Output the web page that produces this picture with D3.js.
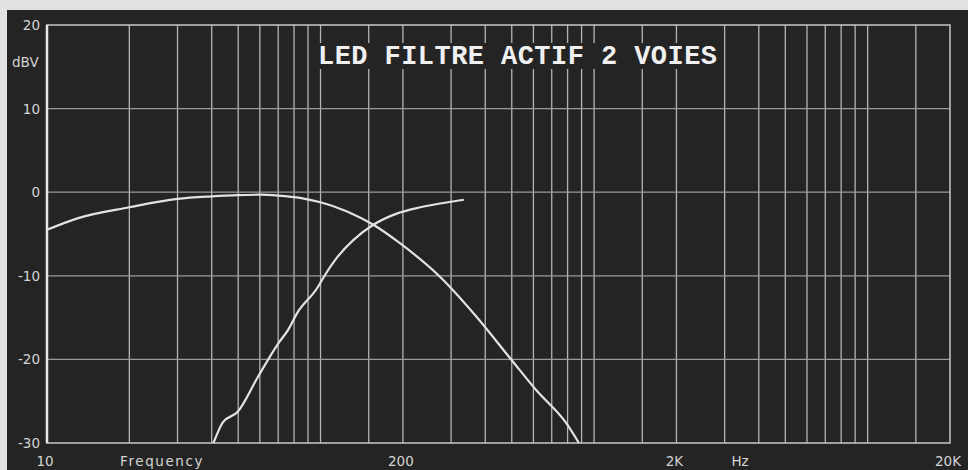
<!DOCTYPE html>
<html>
<head>
<meta charset="utf-8">
<script src="https://cdn.jsdelivr.net/npm/d3@7"></script>
<style>
  body { margin: 0; background: #e2e2e2; }
  svg { display: block; }
  .ev-label { font-family: "DejaVu Sans", sans-serif; font-size: 13.5px; fill: #d4d4d4; }
  .ev-title { font-family: "Liberation Mono", monospace; font-weight: bold; font-size: 27px; fill: #f0f0f0; }
</style>
</head>
<body>
<div id="chart"></div>
<script>
"use strict";

// Axis ticks
const dbTicks = [20, 10, 0, -10, -20, -30];
const freqTicks = [10, 200, 2000, 20000];
const freqTickLabels = ["10", "200", "2K", "20K"];

// Vertical grid (log, as on the analyser screen)
const gridFreqs = [
  20, 30, 40, 50, 60, 70, 80, 90,
  100, 150, 200, 300, 400, 500, 600, 700, 800, 900,
  1000, 1500, 2000, 3000, 4000, 5000, 6000, 7000, 8000, 9000,
  10000, 15000,
];
const gridDbs = [10, 0, -10, -20];

// Low-pass way (woofer)
const lowPassFreq = [10, 13, 20, 30, 40, 50, 60, 70, 85, 100, 125, 156, 195, 275, 365, 500, 615, 790, 880];
const lowPassDb = [-4.5, -3.1, -1.8, -0.8, -0.5, -0.35, -0.3, -0.4, -0.7, -1.2, -2.3, -3.9, -6.1, -10.2, -14.6, -20.1, -23.7, -27.6, -30];

// High-pass way (tweeter)
const highPassFreq = [40.6, 44, 49.7, 59, 70, 76, 82, 97.5, 102.5, 115, 132, 156, 192, 232, 292, 334];
const highPassDb = [-30, -27.5, -26.3, -22.1, -18.1, -16.5, -14.5, -11.4, -10.2, -7.8, -5.7, -3.9, -2.5, -1.8, -1.2, -0.9];

const titleText = "LED FILTRE ACTIF 2 VOIES";

function evDrawChart() {
  const width = 968;
  const height = 470;
  const plot = {left: 47, right: 950, top: 25, bottom: 443};

  const svg = d3.select("#chart").append("svg")
      .attr("width", width)
      .attr("height", height);

  // Screen background
  svg.append("rect")
      .attr("x", 0).attr("y", 0)
      .attr("width", width).attr("height", height)
      .attr("fill", "#e2e2e2");
  svg.append("rect")
      .attr("x", 7).attr("y", 10)
      .attr("width", width - 7).attr("height", height - 10)
      .attr("fill", "#242424");

  const xScale = d3.scaleLog()
      .domain([10, 20000])
      .range([plot.left, plot.right]);
  const yScale = d3.scaleLinear()
      .domain([-30, 20])
      .range([plot.bottom, plot.top]);

  // Grid
  svg.append("g")
      .selectAll("line")
      .data(gridFreqs)
      .enter()
      .append("line")
      .attr("x1", d => xScale(d))
      .attr("x2", d => xScale(d))
      .attr("y1", plot.top)
      .attr("y2", plot.bottom)
      .attr("stroke", "#b4b4b4")
      .attr("stroke-width", 1.3);

  svg.append("g")
      .selectAll("line")
      .data(gridDbs)
      .enter()
      .append("line")
      .attr("x1", plot.left)
      .attr("x2", plot.right)
      .attr("y1", d => yScale(d))
      .attr("y2", d => yScale(d))
      .attr("stroke", "#9a9a9a")
      .attr("stroke-width", 1.2);

  // Frame
  svg.append("rect")
      .attr("x", plot.left)
      .attr("y", plot.top)
      .attr("width", plot.right - plot.left)
      .attr("height", plot.bottom - plot.top)
      .attr("fill", "none")
      .attr("stroke", "#c8c8c8")
      .attr("stroke-width", 1.5);
  svg.append("line")
      .attr("x1", plot.left).attr("x2", plot.left)
      .attr("y1", plot.top).attr("y2", plot.bottom)
      .attr("stroke", "#e8e8e8")
      .attr("stroke-width", 2.5);

  // Title, on its own black patch (90 Hz and 3K lines run through it)
  const titleX = 318;
  const titleW = 399;
  svg.append("rect")
      .attr("x", 310).attr("y", 43)
      .attr("width", 411).attr("height", 26)
      .attr("fill", "#242424");
  svg.append("text")
      .attr("class", "ev-title")
      .attr("x", titleX)
      .attr("y", 64)
      .attr("textLength", titleW)
      .attr("lengthAdjust", "spacing")
      .text(titleText);

  // Curves
  const line = d3.line()
      .x(d => xScale(d[0]))
      .y(d => yScale(d[1]))
      .curve(d3.curveMonotoneX);

  const renderCurve = (freqs, dbs) => {
    const points = freqs.map((f, i) => [f, dbs[i]]);
    svg.append("path")
        .datum(points)
        .attr("d", line)
        .attr("fill", "none")
        .attr("stroke", "#e2e2e2")
        .attr("stroke-width", 2.2);
  };

  renderCurve(lowPassFreq, lowPassDb);
  renderCurve(highPassFreq, highPassDb);

  // Y labels
  svg.append("g")
      .selectAll("text")
      .data(dbTicks)
      .enter()
      .append("text")
      .attr("class", "ev-label")
      .attr("x", 40)
      .attr("y", d => yScale(d) + 5)
      .attr("text-anchor", "end")
      .text(d => "" + d);

  svg.append("text")
      .attr("class", "ev-label")
      .attr("x", 12)
      .attr("y", 67)
      .text("dBV");

  // X labels
  svg.append("g")
      .selectAll("text")
      .data(freqTicks)
      .enter()
      .append("text")
      .attr("class", "ev-label")
      .attr("x", d => xScale(d) - 2)
      .attr("y", 466)
      .attr("text-anchor", "middle")
      .text((d, i) => freqTickLabels[i]);

  svg.append("text")
      .attr("class", "ev-label")
      .attr("x", 120)
      .attr("y", 466)
      .attr("letter-spacing", 1.6)
      .text("Frequency");

  svg.append("text")
      .attr("class", "ev-label")
      .attr("x", 740)
      .attr("y", 466)
      .attr("text-anchor", "middle")
      .text("Hz");
}

evDrawChart();
</script>
</body>
</html>
